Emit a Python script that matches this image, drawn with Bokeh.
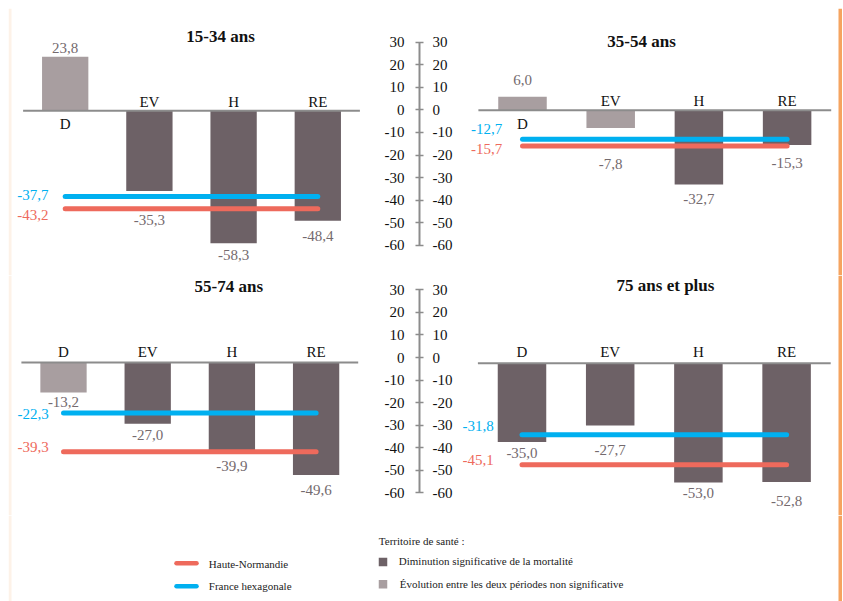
from bokeh.plotting import figure
from bokeh.models import ColumnDataSource, Range1d, LinearAxis, FixedTicker, Label
from bokeh.layouts import column, row
from bokeh.embed import file_html
from bokeh.resources import INLINE
from bokeh.core.properties import value

# ---------------- data ----------------
categories = ["D", "EV", "H", "RE"]
titles = ["15-34 ans", "35-54 ans", "55-74 ans", "75 ans et plus"]
evol_15_34 = [23.8, -35.3, -58.3, -48.4]
evol_35_54 = [6.0, -7.8, -32.7, -15.3]
evol_55_74 = [-13.2, -27.0, -39.9, -49.6]
evol_75_plus = [-35.0, -27.7, -53.0, -52.8]
signif_15_34 = [False, True, True, True]
signif_35_54 = [False, False, True, True]
signif_55_74 = [False, True, True, True]
signif_75_plus = [True, True, True, True]
haute_normandie = [-43.2, -15.7, -39.3, -45.1]
france_hexagonale = [-37.7, -12.7, -22.3, -31.8]
axis_ticks = [30, 20, 10, 0, -10, -20, -30, -40, -50, -60]
legend_lines = ["Haute-Normandie", "France hexagonale"]
legend_title = "Territoire de santé :"
legend_bars = ["Diminution significative de la mortalité",
               "Évolution entre les deux périodes non significative"]

# ---------------- styles ----------------
FONT = "Liberation Serif"
DARK = "#6d6166"
LIGHT = "#a89ea0"
RED = "#ee6a5c"
BLUE = "#00b0f0"
AXIS_GRAY = "#8c8c8c"
LBL_GRAY = "#746a6e"
PEACH = "#fdf2e8"
ORANGE = "#f5a460"


def fmt(v):
    return f"{v:.1f}".replace(".", ",")


def yrange(fig_top, fig_h, zero_px, ppu):
    return Range1d(-(fig_top + fig_h - zero_px) / ppu, (zero_px - fig_top) / ppu)


def xrange(fig_left, fig_w, center0, step):
    return Range1d((fig_left - center0) / step, (fig_left + fig_w - center0) / step)


def base_fig(w, h, xr, yr):
    p = figure(width=w, height=h, x_range=xr, y_range=yr, output_backend="svg",
               toolbar_location=None, min_border=0, x_axis_location=None,
               y_axis_location=None, outline_line_color=None,
               background_fill_color="white", border_fill_color="white")
    p.grid.visible = False
    return p


def page_x(geo, px):
    return (px - geo["c0"]) / geo["step"]


def panel(title, vals, sig, hn, fr, geo):
    p = base_fig(geo["w"], geo["h"],
                 xrange(geo["left"], geo["w"], geo["c0"], geo["step"]),
                 yrange(geo["top"], geo["h"], geo["zero"], geo["ppu"]))
    yr = p.y_range
    # decorative page edges
    if geo["left"] < 20:
        p.quad(left=page_x(geo, 8), right=page_x(geo, 11), bottom=yr.start, top=yr.end,
               fill_color=PEACH, line_color=None)
    else:
        p.quad(left=page_x(geo, 838), right=page_x(geo, 842), bottom=yr.start, top=yr.end,
               fill_color=ORANGE, line_color=None)
    n = len(categories)
    src = ColumnDataSource(dict(
        x=list(range(n)), top=vals,
        color=[DARK if s else LIGHT for s in sig],
        lbl=[fmt(v) for v in vals], dy=geo["lbl_dy"], cat=categories,
        cat_dy=[13.5 if v > 0 else geo["cat_up"] for v in vals]))
    p.vbar(x="x", top="top", bottom=0, width=0.55, fill_color="color",
           line_color=None, source=src)
    p.segment(x0=-0.5, y0=0, x1=n - 0.5, y1=0, line_color=AXIS_GRAY, line_width=2)
    p.segment(x0=[0, 0], y0=[fr, hn], x1=[n - 1, n - 1], y1=[fr, hn],
              line_color=[BLUE, RED], line_width=5, line_cap="round")
    p.text(x="x", y="top", text="lbl", y_offset="dy", source=src,
           text_align="center", text_baseline="middle", text_font=value(FONT),
           text_font_size="15px", text_color=LBL_GRAY)
    p.text(x="x", y=0, text="cat", y_offset="cat_dy", source=src,
           text_align="center", text_baseline="middle", text_font=value(FONT),
           text_font_size="15px", text_color="#111111")
    p.text(x=[0, 0], y=[fr, hn], text=[fmt(fr), fmt(hn)],
           x_offset=geo["line_dx"], y_offset=geo["line_dy"],
           text_align="right", text_baseline="middle", text_font=value(FONT),
           text_font_size="15px", text_color=[BLUE, RED])
    p.add_layout(Label(x=geo["tx"] - geo["left"], y=geo["top"] + geo["h"] - geo["ty"],
                       x_units="screen", y_units="screen", text=title,
                       text_font=FONT, text_font_style="bold", text_font_size="17px",
                       text_align="center", text_baseline="middle", text_color="#111111"))
    return p


def axis_fig(top, h, zero_px, ppu):
    p = figure(width=84, height=h, x_range=Range1d(0, 1),
               y_range=yrange(top, h, zero_px, ppu), output_backend="svg",
               toolbar_location=None, min_border_left=41, min_border_right=36,
               min_border_top=0, min_border_bottom=0, x_axis_location=None,
               y_axis_location=None, outline_line_color=None)
    p.grid.visible = False
    bounds = (min(axis_ticks), max(axis_ticks))
    overrides = {t: str(t) for t in axis_ticks}
    left = LinearAxis(ticker=FixedTicker(ticks=axis_ticks), bounds=bounds,
                      axis_line_color=AXIS_GRAY, axis_line_width=2,
                      major_tick_line_color=AXIS_GRAY, major_tick_line_width=1.5,
                      major_tick_in=4, major_tick_out=4, minor_tick_line_color=None,
                      major_label_standoff=11, major_label_text_font=FONT,
                      major_label_text_font_size="15px", major_label_text_color="#111111",
                      major_label_overrides=overrides)
    p.add_layout(left, "left")
    right = LinearAxis(ticker=FixedTicker(ticks=axis_ticks), bounds=bounds,
                       axis_line_color=None, major_tick_line_color=None,
                       minor_tick_line_color=None, major_tick_in=0, major_tick_out=0,
                       major_label_standoff=6, major_label_text_font=FONT,
                       major_label_text_font_size="15px", major_label_text_color="#111111",
                       major_label_overrides=overrides)
    p.add_layout(right, "right")
    return p


geo_tl = dict(left=8, top=8, w=370, h=267, c0=64.7, step=84.2, zero=110.3, ppu=2.27,
              lbl_dy=[-8.7, 29.3, 12.3, 15.7], cat_up=-9.2,
              line_dx=-16.7, line_dy=[-1.7, 6.3], tx=220, ty=35.7)
geo_tr = dict(left=462, top=8, w=380, h=267, c0=522, step=88.2, zero=109.8, ppu=2.27,
              lbl_dy=[-16.3, 36, 14, 18.4], cat_up=-9,
              line_dx=-20.3, line_dy=[-10.6, 2.6], tx=641, ty=40.7)
geo_bl = dict(left=8, top=275, w=370, h=240, c0=63, step=84.2, zero=362, ppu=2.27,
              lbl_dy=[10, 11.3, 13.3, 15.3], cat_up=-11,
              line_dx=-14.7, line_dy=[1.3, -4.3], tx=228.3, ty=285.7)
geo_br = dict(left=462, top=275, w=380, h=240, c0=521.5, step=88.2, zero=362.7, ppu=2.25,
              lbl_dy=[11, 24.7, 10.4, 18.7], cat_up=-11,
              line_dx=-28.2, line_dy=[-8.7, -4.4], tx=665, ty=285)

p_tl = panel(titles[0], evol_15_34, signif_15_34, haute_normandie[0], france_hexagonale[0], geo_tl)
p_tr = panel(titles[1], evol_35_54, signif_35_54, haute_normandie[1], france_hexagonale[1], geo_tr)
p_bl = panel(titles[2], evol_55_74, signif_55_74, haute_normandie[2], france_hexagonale[2], geo_bl)
p_br = panel(titles[3], evol_75_plus, signif_75_plus, haute_normandie[3], france_hexagonale[3], geo_br)
ax_top = axis_fig(8, 267, 109.3, 2.26)
ax_bot = axis_fig(275, 240, 357, 2.255)

# ---------------- legend ----------------
leg = base_fig(834, 86, Range1d(8, 842), Range1d(601, 515))
leg.quad(left=[8, 838], right=[11, 842], bottom=[601, 601], top=[515, 515],
         fill_color=[PEACH, ORANGE], line_color=None)
leg.segment(x0=[176, 176], y0=[562.7, 585.7], x1=[196, 196], y1=[562.7, 585.7],
            line_color=[RED, BLUE], line_width=4.5, line_cap="round")
leg.text(x=[208.3, 208.3], y=[563.3, 585], text=legend_lines, text_align="left",
         text_baseline="middle", text_font=value(FONT), text_font_size="11px",
         text_color="#222222")
leg.rect(x=[382.5, 382.5], y=[561.5, 583.7], width=8.5, height=8.5,
         fill_color=[DARK, LIGHT], line_color=None)
leg.text(x=[378.3, 398.3, 399.3], y=[540, 560.7, 583.3],
         text=[legend_title] + legend_bars, text_align="left",
         text_baseline="middle", text_font=value(FONT), text_font_size="11px",
         text_color="#222222")

layout = column(row(p_tl, ax_top, p_tr), row(p_bl, ax_bot, p_br), leg,
                margin=(8, 0, 0, 8))

open("out.html", "w").write(file_html(layout, INLINE))
